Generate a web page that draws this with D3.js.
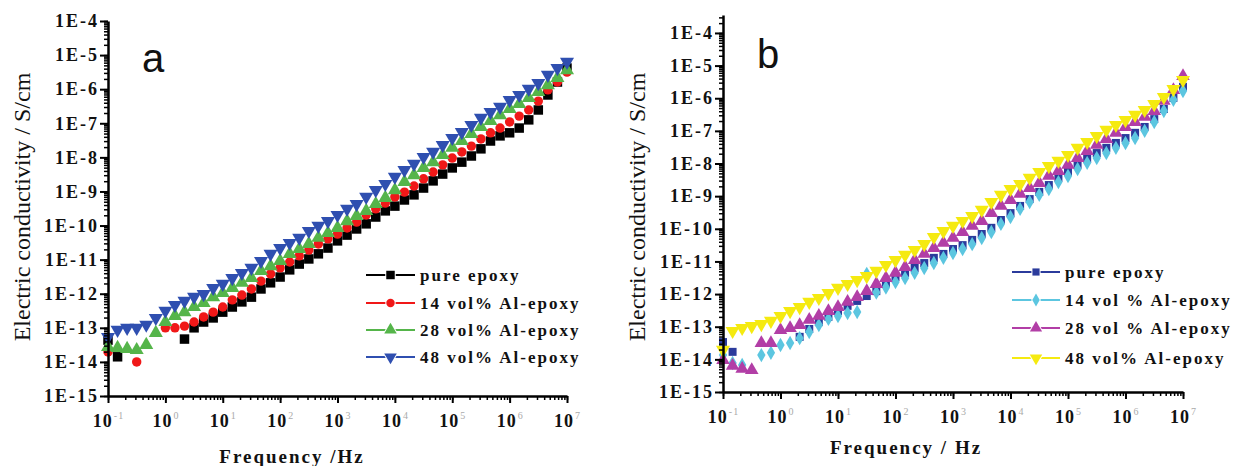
<!DOCTYPE html>
<meta charset="utf-8">
<style>
body { margin: 0; background: #fff; }
svg { display: block; }
.lbl { font-family: "Liberation Serif", serif; fill: #111; }
</style>
<body>
<script src="https://cdn.jsdelivr.net/npm/d3@7"></script>
<script>

// frequency sweep, 6 points per decade (Hz)
var freqHz = [0.1, 0.1468, 0.2154, 0.3162, 0.4642, 0.6813,
  1, 1.468, 2.154, 3.162, 4.642, 6.813,
  10, 14.68, 21.54, 31.62, 46.42, 68.13,
  100, 146.8, 215.4, 316.2, 464.2, 681.3,
  1000, 1468, 2154, 3162, 4642, 6813,
  1e4, 14680, 21540, 31620, 46420, 68130,
  1e5, 146800, 215400, 316200, 464200, 681300,
  1e6, 1468000, 2154000, 3162000, 4642000, 6813000,
  1e7];

// conductivity, stored as log10(S/cm), null = no visible point
// panel a
var aPure = [-13.36, -13.85, null, null, null, null,
  null, null, -13.33, -13.00, -12.83, -12.71,
  -12.54, -12.39, -12.24, -12.10, -11.86, -11.68,
  -11.51, -11.30, -11.13, -10.98, -10.83, -10.66,
  -10.45, -10.28, -10.10, -9.95, -9.75, -9.57,
  -9.43, -9.25, -9.10, -8.90, -8.69, -8.49,
  -8.31, -8.14, -7.96, -7.75, -7.52, -7.37,
  -7.28, -7.14, -6.90, -6.61, -6.17, -5.79,
  -5.38];
var a14 = [-13.71, null, null, -14.00, null, null,
  -13.00, -13.00, -12.95, -12.83, -12.68, -12.54,
  -12.39, -12.18, -12.04, -11.86, -11.63, -11.42,
  -11.24, -11.07, -10.89, -10.72, -10.54, -10.39,
  -10.25, -10.07, -9.90, -9.69, -9.51, -9.34,
  -9.16, -9.02, -8.84, -8.63, -8.43, -8.22,
  -8.02, -7.84, -7.67, -7.46, -7.28, -7.14,
  -6.96, -6.79, -6.61, -6.35, -6.02, -5.79,
  -5.50];
var a28 = [-13.56, -13.59, -13.62, -13.65, -13.50, -13.15,
  -12.83, -12.65, -12.54, -12.39, -12.27, -12.10,
  -11.98, -11.83, -11.68, -11.54, -11.33, -11.19,
  -11.04, -10.83, -10.69, -10.54, -10.36, -10.22,
  -10.07, -9.87, -9.72, -9.57, -9.37, -9.19,
  -8.96, -8.72, -8.52, -8.31, -8.14, -7.93,
  -7.72, -7.52, -7.31, -7.11, -6.93, -6.76,
  -6.58, -6.43, -6.26, -6.08, -5.88, -5.67,
  -5.44];
var a48 = [-13.27, -13.06, -13.00, -13.00, -12.91, -12.71,
  -12.50, -12.33, -12.21, -12.09, -12.01, -11.83,
  -11.71, -11.54, -11.39, -11.24, -11.04, -10.83,
  -10.66, -10.51, -10.36, -10.16, -10.01, -9.87,
  -9.69, -9.51, -9.37, -9.16, -8.96, -8.78,
  -8.57, -8.37, -8.19, -7.99, -7.84, -7.64,
  -7.43, -7.26, -7.05, -6.84, -6.67, -6.52,
  -6.32, -6.17, -5.99, -5.82, -5.58, -5.38,
  -5.20];

// panel b
var bPure = [-13.47, -13.77, null, null, null, null,
  null, null, -13.31, -13.07, -12.86, -12.70,
  -12.52, -12.36, -12.21, -12.06, -11.91, -11.66,
  -11.48, -11.35, -11.20, -11.05, -10.89, -10.77,
  -10.62, -10.50, -10.34, -10.16, -9.97, -9.73,
  -9.52, -9.30, -9.09, -8.87, -8.66, -8.44,
  -8.26, -8.04, -7.86, -7.68, -7.52, -7.37,
  -7.22, -7.06, -6.88, -6.64, -6.33, -5.99,
  -5.65];
var b14 = [-13.87, -14.11, -14.17, null, -13.87, -13.80,
  -13.56, -13.50, -13.35, -13.16, -12.95, -12.76,
  -12.67, -12.58, -12.55, -11.38, -11.95, -11.80,
  -11.63, -11.51, -11.35, -11.20, -11.05, -10.89,
  -10.74, -10.62, -10.47, -10.28, -10.10, -9.85,
  -9.64, -9.39, -9.18, -8.96, -8.78, -8.57,
  -8.38, -8.17, -7.98, -7.83, -7.68, -7.52,
  -7.37, -7.22, -7.00, -6.73, -6.39, -6.05,
  -5.78];
var b28 = [-14.02, -14.20, -14.29, -14.33, -13.50, -13.50,
  -13.10, -13.04, -12.95, -12.79, -12.67, -12.52,
  -12.40, -12.24, -12.09, -11.91, -11.69, -11.51,
  -11.35, -11.17, -10.96, -10.77, -10.59, -10.43,
  -10.28, -10.10, -9.91, -9.76, -9.52, -9.30,
  -9.12, -8.93, -8.75, -8.60, -8.38, -8.23,
  -8.04, -7.83, -7.62, -7.43, -7.25, -7.06,
  -6.88, -6.73, -6.57, -6.39, -6.08, -5.75,
  -5.32];
var b48 = [-13.71, -13.13, -13.04, -12.98, -12.92, -12.82,
  -12.67, -12.52, -12.40, -12.24, -12.12, -11.97,
  -11.81, -11.69, -11.57, -11.45, -11.29, -11.11,
  -10.96, -10.80, -10.65, -10.47, -10.25, -10.07,
  -9.91, -9.76, -9.61, -9.42, -9.18, -8.96,
  -8.78, -8.63, -8.44, -8.26, -8.08, -7.92,
  -7.74, -7.52, -7.34, -7.16, -6.97, -6.82,
  -6.67, -6.51, -6.36, -6.18, -5.96, -5.72,
  -5.44];

var namesA = ["pure epoxy", "14 vol% Al-epoxy", "28 vol% Al-epoxy", "48 vol% Al-epoxy"];
var namesB = ["pure epoxy", "14 vol % Al-epoxy", "28 vol % Al-epoxy", "48 vol% Al-epoxy"];

var yTickExp = [-4, -5, -6, -7, -8, -9, -10, -11, -12, -13, -14, -15];
var xTickExp = [-1, 0, 1, 2, 3, 4, 5, 6, 7];

var svg = d3.select("body").append("svg")
    .attr("width", 1238)
    .attr("height", 466);

svg.append("rect").attr("width", 1238).attr("height", 466).attr("fill", "#fff");

function markerPath(kind, size) {
  var t = {square: d3.symbolSquare, circle: d3.symbolCircle, diamond: d3.symbolDiamond,
           up: d3.symbolTriangle, down: d3.symbolTriangle}[kind];
  return d3.symbol().type(t).size(size)();
}

function drawPanel(p) {
  var x = d3.scaleLog().domain([0.1, 1e7]).range([p.left, p.right]);
  var y = d3.scaleLog().domain([1e-15, p.yTop]).range([p.bottom, p.top]);
  var g = svg.append("g");

  // data markers
  p.series.forEach(function(s) {
    var pts = freqHz.map(function(f, i) { return [f, s.values[i]]; })
                    .filter(function(d) { return d[1] != null; });
    g.append("g").selectAll("path")
        .data(pts)
      .enter().append("path")
        .attr("d", markerPath(s.kind, s.size))
        .attr("fill", s.color)
        .attr("transform", function(d) {
          return "translate(" + x(d[0]) + "," + y(Math.pow(10, d[1])) + ")" +
                 (s.kind == "down" ? " rotate(180)" : "");
        });
  });

  // y axis: minor then major
  var yMinor = y.ticks(200);
  g.append("g")
      .attr("transform", "translate(" + p.left + ",0)")
      .call(d3.axisLeft(y).tickValues(yMinor).tickSize(4).tickFormat(""))
      .call(function(a) { a.select(".domain").remove(); a.selectAll("line").attr("stroke-width", 1.5); });
  var yAx = g.append("g")
      .attr("transform", "translate(" + p.left + ",0)")
      .call(d3.axisLeft(y)
        .tickValues(yTickExp.map(function(e) { return Math.pow(10, e); }))
        .tickSize(8).tickSizeOuter(0).tickPadding(1)
        .tickFormat(function(d) { return "1E" + Math.round(Math.log10(d)); }));
  yAx.attr("font-family", "Liberation Serif").attr("font-size", 18).attr("font-weight", "bold");
  yAx.select(".domain").attr("stroke-width", 2.5);
  yAx.selectAll("line").attr("stroke-width", 2);
  yAx.selectAll("text").attr("fill", "#111").attr("letter-spacing", "2px");

  // x axis
  var xMinor = x.ticks(100);
  g.append("g")
      .attr("transform", "translate(0," + p.bottom + ")")
      .call(d3.axisBottom(x).tickValues(xMinor).tickSize(4).tickFormat(""))
      .call(function(a) { a.select(".domain").remove(); a.selectAll("line").attr("stroke-width", 1.5); });
  var xAx = g.append("g")
      .attr("transform", "translate(0," + p.bottom + ")")
      .call(d3.axisBottom(x)
        .tickValues(xTickExp.map(function(e) { return Math.pow(10, e); }))
        .tickSize(7).tickSizeOuter(0).tickPadding(11));
  xAx.attr("font-family", "Liberation Serif").attr("font-size", 18).attr("font-weight", "bold");
  xAx.select(".domain").attr("stroke-width", 2.5);
  xAx.selectAll("line").attr("stroke-width", 2);
  xAx.selectAll(".tick text").each(function(d) {
    var t = d3.select(this).text(null).attr("fill", "#111").attr("letter-spacing", "1px");
    t.append("tspan").text("10");
    t.append("tspan").attr("dy", -8).attr("dx", 1)
      .attr("font-size", 10).attr("font-weight", "normal").attr("fill", "#aaa")
      .text(Math.round(Math.log10(d)));
  });

  // titles
  svg.append("text").attr("class", "lbl")
      .attr("transform", "translate(" + p.yTitleX + "," + p.yTitleY + ") rotate(-90)")
      .attr("text-anchor", "middle").attr("dominant-baseline", "central")
      .style("font-size", "24px")
      .text("Electric conductivity / S/cm");
  svg.append("text").attr("class", "lbl")
      .attr("x", p.xTitleX).attr("y", p.xTitleY)
      .attr("text-anchor", "middle")
      .style("font-size", "19px").style("font-weight", "bold").style("letter-spacing", "2px")
      .text(p.xTitle);
  svg.append("text")
      .attr("x", p.letterX).attr("y", p.letterY)
      .style("font-family", "'Liberation Sans', Arial, sans-serif")
      .style("font-size", "40px").attr("fill", "#111")
      .text(p.letter);

  // legend
  p.series.forEach(function(s, i) {
    var ly = p.legend.rows[i];
    g.append("line")
        .attr("x1", p.legend.x0).attr("x2", p.legend.x1)
        .attr("y1", ly).attr("y2", ly)
        .attr("stroke", s.color).attr("stroke-width", 2);
    g.append("path")
        .attr("d", markerPath(s.kind, s.size * 0.8))
        .attr("fill", s.color)
        .attr("stroke", "#fff").attr("stroke-width", 2).attr("paint-order", "stroke")
        .attr("transform", "translate(" + (p.legend.x0 + p.legend.x1) / 2 + "," + ly + ")" +
              (s.kind == "down" ? " rotate(180)" : ""));
    g.append("text").attr("class", "lbl")
        .attr("x", p.legend.tx).attr("y", ly)
        .attr("dominant-baseline", "central")
        .style("font-size", "17px").style("font-weight", "bold").style("letter-spacing", "2px")
        .text(s.name);
  });
}

drawPanel({
  left: 108, right: 567, top: 21, bottom: 396, yTop: 1e-4,
  letter: "a", letterX: 142, letterY: 72,
  yTitleX: 22, yTitleY: 207,
  xTitle: "Frequency /Hz", xTitleX: 292, xTitleY: 463,
  legend: {x0: 366, x1: 415, tx: 420, rows: [275, 303, 330, 357]},
  series: [
    {name: namesA[0], values: aPure, color: "#000000", kind: "square", size: 90},
    {name: namesA[1], values: a14, color: "#f01818", kind: "circle", size: 70},
    {name: namesA[2], values: a28, color: "#55b54a", kind: "up", size: 85},
    {name: namesA[3], values: a48, color: "#2f4fb0", kind: "down", size: 85}
  ]
});

drawPanel({
  left: 723, right: 1183, top: 15, bottom: 392, yTop: Math.pow(10, -3.45),
  letter: "b", letterX: 757, letterY: 68,
  yTitleX: 637, yTitleY: 207,
  xTitle: "Frequency / Hz", xTitleX: 906, xTitleY: 454,
  legend: {x0: 1012, x1: 1060, tx: 1065, rows: [272, 300, 328, 358]},
  series: [
    {name: namesB[0], values: bPure, color: "#2b3b9c", kind: "square", size: 64},
    {name: namesB[1], values: b14, color: "#5cc6e0", kind: "diamond", size: 60},
    {name: namesB[2], values: b28, color: "#b23ea6", kind: "up", size: 80},
    {name: namesB[3], values: b48, color: "#f5ea10", kind: "down", size: 85}
  ]
});

</script>
</body>
